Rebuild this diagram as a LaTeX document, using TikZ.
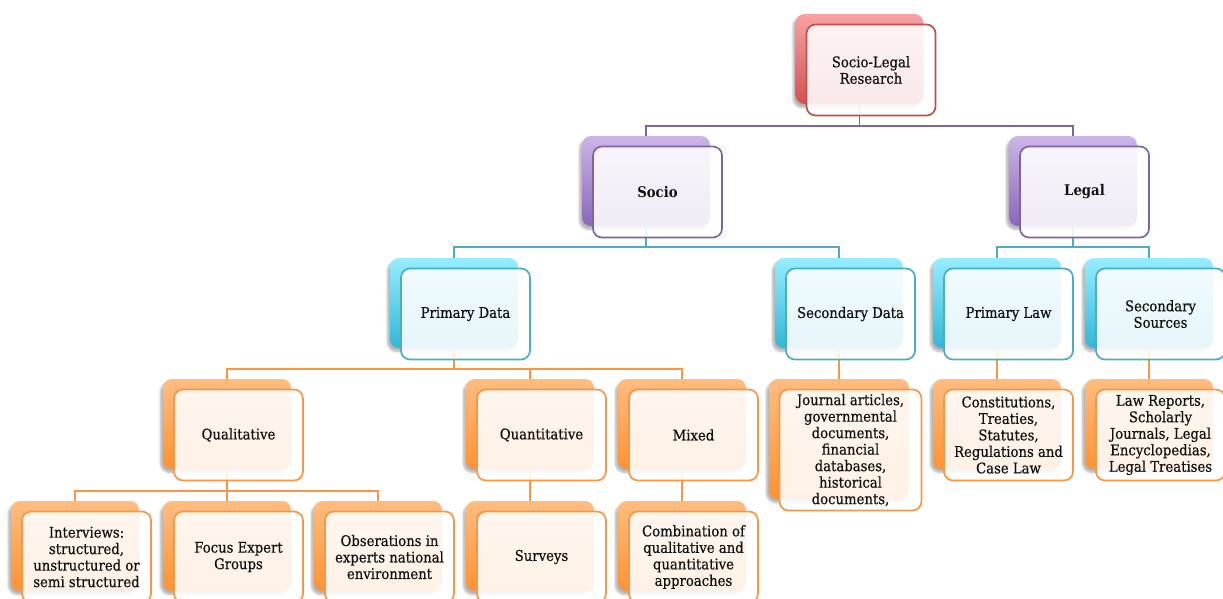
\documentclass[tikz,border=0pt]{standalone}
\usepackage{fontspec}
\setmainfont{DejaVu Serif}[FakeStretch=0.9, FakeBold=0.5, BoldFeatures={FakeBold=0}]
\usetikzlibrary{shadows.blur}

% palette: back-card gradient (top/bottom) and outline colour per tier
\definecolor{redTop}{HTML}{F6A2A3}\definecolor{redBot}{HTML}{D64F52}\definecolor{redLine}{HTML}{C0504D}
\definecolor{purTop}{HTML}{CBB5E6}\definecolor{purBot}{HTML}{8B66BC}\definecolor{purLine}{HTML}{8064A2}
\definecolor{bluTop}{HTML}{95EDFF}\definecolor{bluBot}{HTML}{33B7D7}\definecolor{bluLine}{HTML}{4BACC6}
\definecolor{orgTop}{HTML}{FFBC80}\definecolor{orgBot}{HTML}{FF9232}\definecolor{orgLine}{HTML}{F79646}
\definecolor{txt}{HTML}{111111}

\newcommand\sgfont{\fontsize{14.7}{16.5}\selectfont}

\begin{document}
\begin{tikzpicture}[x=1pt,y=-1pt,
  card/.style={rounded corners=9pt, minimum width=128pt, minimum height=90pt,
    inner sep=0pt, draw=none,
    blur shadow={shadow xshift=-2.5pt, shadow yshift=-3.5pt, shadow blur steps=6, shadow opacity=30}},
  redcard/.style={card, top color=redTop, bottom color=redBot},
  purcard/.style={card, top color=purTop, bottom color=purBot},
  blucard/.style={card, top color=bluTop, bottom color=bluBot},
  orgcard/.style={card, top color=orgTop, bottom color=orgBot},
  face/.style={rounded corners=9pt, minimum width=129pt, minimum height=91pt,
    inner sep=1pt, line width=1.7pt, fill=white, fill opacity=0.88, text opacity=1,
    text=txt, align=center, font=\sgfont},
  redface/.style={face, draw=redLine},
  purface/.style={face, draw=purLine, font=\sgfont\bfseries},
  bluface/.style={face, draw=bluLine},
  orgface/.style={face, draw=orgLine},
  link/.style={line width=1.7pt},
  off/.style={shift={(11.5,11)}}
]
\useasboundingbox (0,0) rectangle (1223,598);

% ---- back cards ----
\node[redcard] (rootB) at (859.5,59) {};
\node[purcard] (socioB) at (646,181) {};
\node[purcard] (legalB) at (1073,181) {};
\node[blucard] (pdataB) at (454,303) {};
\node[blucard] (sdataB) at (839,303) {};
\node[blucard] (plawB) at (997,303) {};
\node[blucard] (ssrcB) at (1149,303) {};
\node[orgcard] (qualB) at (227,424) {};
\node[orgcard] (quanB) at (530,424) {};
\node[orgcard] (mixB) at (682,424) {};
\node[orgcard, minimum width=140pt, minimum height=120pt] (jourB) at (839,439) {};
\node[orgcard] (constB) at (997,424) {};
\node[orgcard] (lrepB) at (1149,424) {};
\node[orgcard] (intB) at (75,546) {};
\node[orgcard] (focB) at (227,546) {};
\node[orgcard] (obsB) at (378,546) {};
\node[orgcard] (survB) at (530,546) {};
\node[orgcard] (combB) at (682,546) {};

% ---- connectors ----
\draw[link, purLine] (rootB.south) |- ([yshift=10pt]socioB.north) -- (socioB.north);
\draw[link, purLine] (rootB.south) |- ([yshift=10pt]legalB.north) -- (legalB.north);
\draw[link, bluLine] (socioB.south) |- ([yshift=10.5pt]pdataB.north) -- (pdataB.north);
\draw[link, bluLine] (socioB.south) |- ([yshift=10.5pt]sdataB.north) -- (sdataB.north);
\draw[link, bluLine] (legalB.south) |- ([yshift=10.5pt]plawB.north) -- (plawB.north);
\draw[link, bluLine] (legalB.south) |- ([yshift=10.5pt]ssrcB.north) -- (ssrcB.north);
\draw[link, orgLine] (pdataB.south) |- ([yshift=10pt]qualB.north) -- (qualB.north);
\draw[link, orgLine] (pdataB.south) |- ([yshift=10pt]quanB.north) -- (quanB.north);
\draw[link, orgLine] (pdataB.south) |- ([yshift=10pt]mixB.north) -- (mixB.north);
\draw[link, orgLine] (sdataB.south) -- (jourB.north);
\draw[link, orgLine] (plawB.south) -- (constB.north);
\draw[link, orgLine] (ssrcB.south) -- (lrepB.north);
\draw[link, orgLine] (qualB.south) |- ([yshift=10pt]intB.north) -- (intB.north);
\draw[link, orgLine] (qualB.south) |- ([yshift=10pt]focB.north) -- (focB.north);
\draw[link, orgLine] (qualB.south) |- ([yshift=10pt]obsB.north) -- (obsB.north);
\draw[link, orgLine] (quanB.south) -- (survB.north);
\draw[link, orgLine] (mixB.south) -- (combB.north);

% ---- front faces with labels ----
\node[redface] (root) at ([off]rootB.center) {Socio-Legal\\Research};
\node[purface] (socio) at ([off]socioB.center) {Socio};
\node[purface] (legal) at ([off]legalB.center) {Legal};
\node[bluface] (pdata) at ([off]pdataB.center) {Primary Data};
\node[bluface] (sdata) at ([off]sdataB.center) {Secondary Data};
\node[bluface] (plaw) at ([off]plawB.center) {Primary Law};
\node[bluface] (ssrc) at ([off]ssrcB.center) {Secondary\\Sources};
\node[orgface] (qual) at ([off]qualB.center) {Qualitative};
\node[orgface] (quan) at ([off]quanB.center) {Quantitative};
\node[orgface] (mix) at ([off]mixB.center) {Mixed};
\node[orgface, minimum width=142pt, minimum height=121pt] (jour) at ([off]jourB.center)
  {Journal articles,\\governmental\\documents,\\financial\\databases,\\historical\\documents,};
\node[orgface] (const) at ([off]constB.center)
  {Constitutions,\\Treaties,\\Statutes,\\Regulations and\\Case Law};
\node[orgface] (lrep) at ([off]lrepB.center)
  {Law Reports,\\Scholarly\\Journals, Legal\\Encyclopedias,\\Legal Treatises};
\node[orgface] (int) at ([off]intB.center)
  {Interviews:\\structured,\\unstructured or\\semi structured};
\node[orgface] (foc) at ([off]focB.center) {Focus Expert\\Groups};
\node[orgface] (obs) at ([off]obsB.center) {Obserations in\\experts national\\environment};
\node[orgface] (surv) at ([off]survB.center) {Surveys};
\node[orgface] (comb) at ([off]combB.center)
  {Combination of\\qualitative and\\quantitative\\approaches};
\end{tikzpicture}
\end{document}
